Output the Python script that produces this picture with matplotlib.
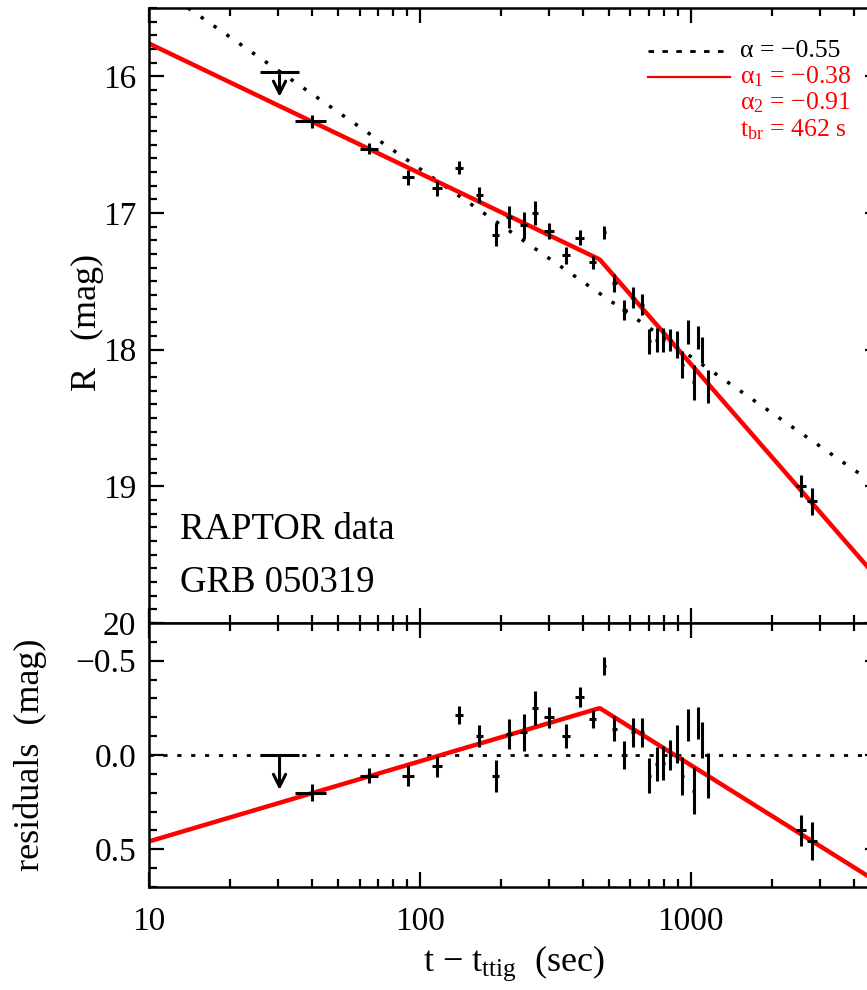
import numpy as np
import matplotlib
matplotlib.use("Agg")
import matplotlib.pyplot as plt
from matplotlib.ticker import FixedLocator, MultipleLocator, NullFormatter, LogLocator

plt.rcParams['font.family'] = ['Liberation Serif', 'DejaVu Serif']
plt.rcParams['mathtext.fontset'] = 'custom'
plt.rcParams['mathtext.rm'] = 'Liberation Serif'
plt.rcParams['mathtext.it'] = 'Liberation Serif:italic'

# RAPTOR detections (sec since trigger, R mag)
t_obs = [40, 65, 90.5, 116, 140, 166, 191, 214, 242, 267, 300, 346, 389, 435,
         481, 523, 570, 612, 662, 705, 750, 794, 841, 891, 933, 976, 1025,
         1063, 1105, 1158, 2553, 2800]
t_err = [5.2, 5.0, 4.5, 4.5, 5, 5, 6, 6, 7, 7, 12, 12, 14, 14,
         8, 10, 10, 10, 10, 10, 10, 10, 10, 10, 10, 10, 10,
         10, 10, 10, 110, 120]
r_mag = [16.33, 16.53, 16.74, 16.82, 16.67, 16.87, 17.16, 17.03, 17.09, 17.00,
         17.13, 17.31, 17.18, 17.36, 17.14, 17.51, 17.71, 17.62, 17.67, 17.94,
         17.93, 17.93, 17.93, 17.96, 18.11, 17.87, 18.24, 17.91, 18.00, 18.27,
         19.00, 19.11]
r_err = [0.045, 0.04, 0.055, 0.055, 0.048, 0.057, 0.085, 0.08, 0.10, 0.09,
         0.057, 0.062, 0.053, 0.048, 0.048, 0.066, 0.075, 0.075, 0.078, 0.093,
         0.09, 0.09, 0.08, 0.10, 0.10, 0.085, 0.125, 0.085, 0.095, 0.12,
         0.08, 0.10]
resid = [0.20, 0.11, 0.11, 0.06, -0.21, -0.10, 0.11, -0.11, -0.12, -0.25,
         -0.20, -0.10, -0.31, -0.19, -0.47, -0.14, 0.0, -0.12, -0.12, 0.11,
         0.05, 0.04, 0.0, -0.06, 0.11, -0.16, 0.19, -0.17, -0.08, 0.11,
         0.40, 0.455]

# first exposure: upper limit
t_lim = 30.4
t_lim_lo, t_lim_hi = 25.7, 35.9
r_lim = 15.97
resid_lim = 0.0
lim_arrow = 0.2

# power-law fits
alpha_single = -0.55
alpha1 = -0.38
alpha2 = -0.91
t_break = 462.0
mag_break = 17.34
mag_single_1000 = 18.05

tgrid = np.logspace(1, np.log10(5000), 500)
mag_s = mag_single_1000 - 2.5 * alpha_single * np.log10(tgrid / 1000.)
alpha_b = np.where(tgrid < t_break, alpha1, alpha2)
mag_b = mag_break - 2.5 * alpha_b * np.log10(tgrid / t_break)

fig = plt.figure(figsize=(8.67, 9.9), dpi=100)
ax1 = fig.add_axes([0.1715, 0.3707, 0.8435, 0.6212])
ax2 = fig.add_axes([0.1715, 0.104, 0.8435, 0.2667])

red = '#ff0000'
ebar = dict(fmt='none', ecolor='black', elinewidth=2.2, capsize=0)

# top panel
ax1.plot(tgrid, mag_s, color='black', lw=2.5, ls=(0, (1, 3.5)))
ax1.plot(tgrid, mag_b, color=red, lw=3.2)
ax1.errorbar(t_obs, r_mag, xerr=t_err, yerr=r_err, **ebar)
ax1.errorbar([t_lim], [r_lim], xerr=[[t_lim - t_lim_lo], [t_lim_hi - t_lim]], **ebar)
ax1.annotate('', xy=(t_lim, r_lim + lim_arrow), xytext=(t_lim, r_lim),
             arrowprops=dict(arrowstyle='->', lw=2.2, color='black', mutation_scale=22))

ax1.set_xscale('log')
ax1.set_xlim(10, 5000)
ax1.set_ylim(20, 15.5)
ax1.yaxis.set_major_locator(FixedLocator([16, 17, 18, 19, 20]))
ax1.yaxis.set_minor_locator(MultipleLocator(0.1))
ax1.set_yticklabels(['16', '17', '18', '19', '20'])
ax1.xaxis.set_major_formatter(NullFormatter())
ax1.xaxis.set_minor_formatter(NullFormatter())

ax1.text(0.043, 0.151, 'RAPTOR data', transform=ax1.transAxes, fontsize=26.5, va='center')
ax1.text(0.043, 0.065, 'GRB 050319', transform=ax1.transAxes, fontsize=26.5, va='center')

# legend drawn by hand
ax1.plot([0.683, 0.792], [0.930, 0.930], transform=ax1.transAxes, color='black',
         lw=2.0, ls=(0, (2, 3)))
ax1.plot([0.683, 0.795], [0.888, 0.888], transform=ax1.transAxes, color=red, lw=1.6)
leg_kw = dict(transform=ax1.transAxes, fontsize=18.5, va='center', ha='left')
ax1.text(0.809, 0.930, 'α = −0.55', color='black', **leg_kw)
ax1.text(0.809, 0.888, 'α$_1$ = −0.38', color=red, **leg_kw)
ax1.text(0.809, 0.846, 'α$_2$ = −0.91', color=red, **leg_kw)
ax1.text(0.809, 0.802, 't$_{\\rm br}$ = 462 s', color=red, **leg_kw)

# residual panel
ax2.plot(tgrid, np.zeros_like(tgrid), color='black', lw=2.0, ls=(0, (1.5, 3.5)))
ax2.plot(tgrid, mag_b - mag_s, color=red, lw=3.2)
ax2.errorbar(t_obs, resid, xerr=t_err, yerr=r_err, **ebar)
ax2.errorbar([t_lim], [resid_lim], xerr=[[t_lim - t_lim_lo], [t_lim_hi - t_lim]], **ebar)
ax2.annotate('', xy=(t_lim, resid_lim + lim_arrow), xytext=(t_lim, resid_lim),
             arrowprops=dict(arrowstyle='->', lw=2.2, color='black', mutation_scale=22))

ax2.set_xscale('log')
ax2.set_xlim(10, 5000)
ax2.set_ylim(0.7, -0.7)
ax2.yaxis.set_major_locator(FixedLocator([-0.5, 0.0, 0.5]))
ax2.yaxis.set_minor_locator(MultipleLocator(0.1))
ax2.set_yticklabels(['−0.5', '0.0', '0.5'])
ax2.xaxis.set_major_locator(FixedLocator([10, 100, 1000]))
ax2.set_xticklabels(['10', '100', '1000'])
ax2.xaxis.set_minor_formatter(NullFormatter())

for ax in (ax1, ax2):
    ax.xaxis.set_minor_locator(LogLocator(base=10, subs=np.arange(2, 10)))
    ax.tick_params(which='both', direction='in', top=True, right=True, width=1.6,
                   labelsize=24)
    ax.tick_params(which='major', length=11)
    ax.tick_params(which='minor', length=6)
    ax.tick_params(axis='x', pad=14)
    ax.tick_params(axis='y', pad=9)
    for s in ax.spines.values():
        s.set_linewidth(1.8)

fig.text(87 / 867, 1 - 322 / 990, 'R   (mag)', rotation=90, fontsize=26,
         ha='center', va='center')
fig.text(30 / 867, 1 - 755 / 990, 'residuals  (mag)', rotation=90, fontsize=26,
         ha='center', va='center')
fig.text(514 / 867, 1 - 963 / 990, 't − t$_{\\rm ttig}$  (sec)', fontsize=26,
         ha='center', va='center')

fig.savefig('out.png', dpi=100)
